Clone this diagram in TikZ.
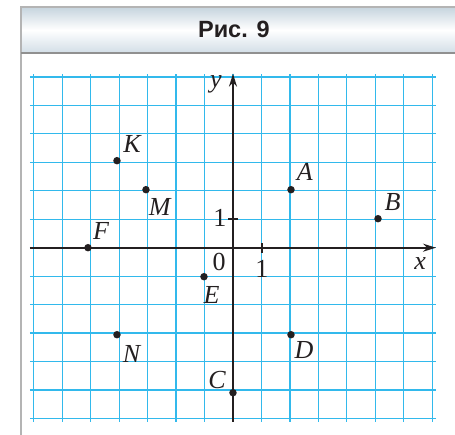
\documentclass[tikz,border=0pt]{standalone}
\usepackage{fontspec}
\setmainfont{Liberation Serif}
\newfontfamily\titlefont{Liberation Sans}
\usetikzlibrary{arrows.meta}
\definecolor{gridc}{RGB}{50,185,236}
\definecolor{axisc}{RGB}{35,31,32}
\definecolor{framec}{RGB}{180,180,180}
\definecolor{headtop}{RGB}{198,212,222}
\definecolor{headbot}{RGB}{210,222,231}
\begin{document}
\begin{tikzpicture}[x=29pt,y=29pt,
  gridline/.style={draw=gridc, line width=1.2pt},
  axisline/.style={draw=axisc, line width=1.8pt},
  dotpt/.style={circle, fill=axisc, inner sep=0pt, minimum size=7.5pt},
  lbl/.style={font=\fontsize{26}{26}\selectfont\itshape, text=axisc, inner sep=0pt},
  num/.style={font=\fontsize{26}{26}\selectfont, text=axisc, inner sep=0pt},
]
\useasboundingbox (-8.034,-6.424) rectangle (7.655,8.541);
% header
\shade[top color=headtop, bottom color=headbot, middle color=white] (-7.31,6.714) rectangle (7.8,8.300);
\draw[framec, line width=1.2pt] (7.8,8.300) -- (-7.31,8.300) -- (-7.31,-6.6);
\draw[framec!80!black, line width=1.2pt] (-7.31,6.714) -- (7.8,6.714);
\node[font=\titlefont\bfseries\fontsize{23.5}{23.5}\selectfont, text=axisc] (title) at (0.03,7.51) {Рис. 9};
% grid
\draw[gridline] (-7,-6) grid (7,6);
% axes
\coordinate (xs) at (-7,0);
\coordinate (xe) at (7,0);
\coordinate (ys) at (0,-6);
\coordinate (ye) at (0,6);
\draw[axisline, -{Stealth[length=13pt,width=8pt]}] (xs) -- (xe);
\draw[axisline, -{Stealth[length=13pt,width=8pt]}] (ys) -- (ye);
\coordinate (tx1) at (1,-0.17);
\coordinate (tx2) at (1,0.17);
\coordinate (ty1) at (-0.17,1);
\coordinate (ty2) at (0.17,1);
\draw[axisline] (tx1) -- (tx2);
\draw[axisline] (ty1) -- (ty2);
\node[lbl] (xl) at (6.45,-0.53) {x};
\node[lbl] (yl) at (-0.59,5.64) {y};
\node[num] (o) at (-0.48,-0.50) {0};
\node[num] (one1) at (1.0,-0.72) {1};
\node[num] (one2) at (-0.45,1.02) {1};
% points
\node[dotpt] (K) at (-4,3) {};
\node[dotpt] (M) at (-3,2) {};
\node[dotpt] (F) at (-5,0) {};
\node[dotpt] (A) at (2,2) {};
\node[dotpt] (B) at (5,1) {};
\node[dotpt] (E) at (-1,-1) {};
\node[dotpt] (N) at (-4,-3) {};
\node[dotpt] (D) at (2,-3) {};
\node[dotpt] (C) at (0,-5) {};
\node[lbl] (Kl) at (-3.48,3.56) {K};
\node[lbl] (Ml) at (-2.53,1.40) {M};
\node[lbl] (Fl) at (-4.55,0.56) {F};
\node[lbl] (Al) at (2.48,2.61) {A};
\node[lbl] (Bl) at (5.5,1.56) {B};
\node[lbl] (El) at (-0.74,-1.63) {E};
\node[lbl] (Nl) at (-3.5,-3.65) {N};
\node[lbl] (Dl) at (2.45,-3.54) {D};
\node[lbl] (Cl) at (-0.55,-4.56) {C};
\end{tikzpicture}
\end{document}
